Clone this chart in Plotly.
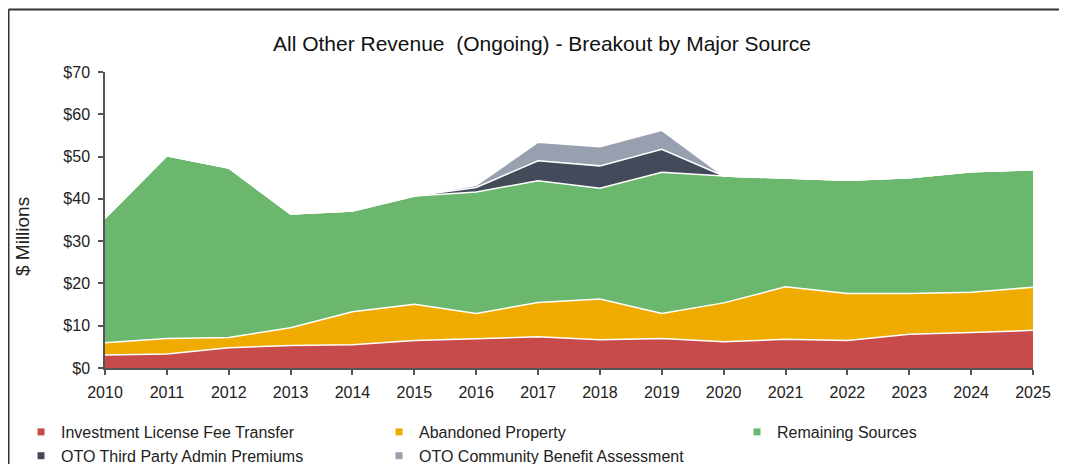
import plotly.graph_objects as go

years = list(range(2010, 2026))
license_fee = [3.1, 3.3, 4.8, 5.3, 5.5, 6.5, 6.9, 7.4, 6.7, 7.0, 6.2, 6.8, 6.5, 8.0, 8.4, 8.9]
abandoned = [2.9, 3.7, 2.4, 4.2, 7.8, 8.6, 6.0, 8.1, 9.6, 5.9, 9.2, 12.4, 11.1, 9.6, 9.5, 10.2]
remaining = [29.4, 43.2, 40.1, 26.9, 23.8, 25.6, 28.7, 28.8, 26.2, 33.4, 30.0, 25.7, 26.8, 27.4, 28.5, 27.8]
oto_admin = [0, 0, 0, 0, 0, 0, 1.1, 4.7, 5.3, 5.4, 0, 0, 0, 0, 0, 0]
oto_community = [0, 0, 0, 0, 0, 0, 0.5, 4.4, 4.5, 4.5, 0, 0, 0, 0, 0, 0]

names = ["Investment License Fee Transfer", "Abandoned Property", "Remaining Sources",
         "OTO Third Party Admin Premiums", "OTO Community Benefit Assessment"]
series = [license_fee, abandoned, remaining, oto_admin, oto_community]
colors = ["#C84B4B", "#F0AB00", "#6BB76D", "#434A5A", "#98A0B0"]
legend_ids = ["legend", "legend2", "legend3", "legend", "legend2"]

FONT = "Liberation Sans, Arial, sans-serif"

fig = go.Figure()
for name, vals, col in zip(names, series, colors):
    fig.add_trace(go.Scatter(
        x=years, y=vals, name=name, stackgroup="one", mode="lines",
        line=dict(color="white", width=1.5), fillcolor=col, showlegend=False,
        hoverinfo="x+y+name",
    ))
for name, col, lg in zip(names, colors, legend_ids):
    fig.add_trace(go.Scatter(
        x=[None], y=[None], name=name, mode="markers",
        marker=dict(symbol="square", size=7, color=col), legend=lg, showlegend=True,
    ))

# figure is drawn at an 8px page offset, so it is sized to fill the window exactly
W, H = 1059, 456
L, R, T, B = 97, 34, 64, 96
pw, ph = W - L - R, H - T - B

def px2xf(px):
    return (px - L) / pw

def py2yf(py):
    return (H - B - py) / ph

leg_common = dict(orientation="v", xanchor="left", yanchor="top", bgcolor="rgba(0,0,0,0)",
                  xref="container", yref="container", traceorder="normal",
                  font=dict(family=FONT, size=16, color="#222"), itemwidth=30, tracegroupgap=0)
ly = 1 - 407 / H

fig.update_layout(
    width=W, height=H,
    margin=dict(l=L, r=R, t=T, b=B, autoexpand=False),
    paper_bgcolor="white", plot_bgcolor="white",
    font=dict(family=FONT, size=16, color="#222"),
    title=dict(text="All Other Revenue  (Ongoing) - Breakout by Major Source",
               x=534 / W, xanchor="center", xref="container",
               y=1 - 36 / H, yanchor="middle", yref="container",
               font=dict(family=FONT, size=21, color="#111")),
    xaxis=dict(range=[2010, 2025], tickmode="array", tickvals=years,
               ticktext=[str(y) for y in years], automargin=False,
               showgrid=False, zeroline=False, showline=True, linecolor="#555", linewidth=1.5,
               ticks="outside", ticklen=5, tickcolor="#555", tickwidth=1.5,
               ticklabelstandoff=4,
               tickfont=dict(family=FONT, size=16, color="#222")),
    yaxis=dict(range=[0, 70], dtick=10, tickprefix="$", automargin=False,
               showgrid=False, zeroline=False, showline=True, linecolor="#555", linewidth=1.5,
               ticks="outside", ticklen=5, tickcolor="#555", tickwidth=1.5,
               ticklabelstandoff=5,
               tickfont=dict(family=FONT, size=16, color="#222")),
    legend=dict(x=13 / W, y=ly, **leg_common),
    legend2=dict(x=371 / W, y=ly, **leg_common),
    legend3=dict(x=729 / W, y=ly, **leg_common),
    annotations=[
        dict(text="$ Millions", textangle=-90, xref="paper", yref="paper",
             x=px2xf(14), y=py2yf(229), xanchor="center", yanchor="middle",
             showarrow=False, font=dict(family=FONT, size=19, color="#222")),
    ],
    shapes=[
        dict(type="line", xref="paper", yref="paper", x0=px2xf(0.5), x1=px2xf(1070),
             y0=py2yf(1.5), y1=py2yf(1.5), line=dict(color="#333", width=2)),
        dict(type="line", xref="paper", yref="paper", x0=px2xf(0.5), x1=px2xf(0.5),
             y0=py2yf(1.5), y1=py2yf(470), line=dict(color="#333", width=2)),
    ],
    showlegend=True,
)

fig.write_html("out.html")
